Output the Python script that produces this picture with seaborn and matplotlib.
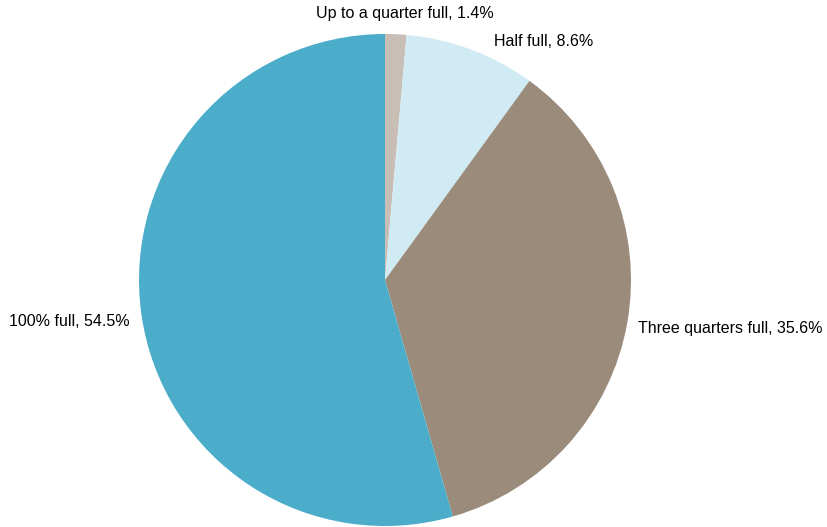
import matplotlib
matplotlib.use("Agg")
import matplotlib.pyplot as plt
import seaborn as sns

sns.set_theme(style="white")
plt.rcParams['font.family'] = ['Liberation Sans', 'DejaVu Sans']

categories = ["Up to a quarter full", "Half full", "Three quarters full", "100% full"]
values = [1.4, 8.6, 35.6, 54.5]
colors = ["#C8BEB5", "#D0EBF4", "#9A8B7B", "#4BADCA"]

W, H = 827, 527
fig = plt.figure(figsize=(W / 100, H / 100), dpi=100)
cx, cy, r = 385, 280, 246
ax = fig.add_axes([(cx - r) / W, (H - cy - r) / H, 2 * r / W, 2 * r / H])
ax.pie(values, colors=colors, startangle=90, counterclock=False,
       radius=1, wedgeprops=dict(linewidth=0))
ax.set_xlim(-1, 1)
ax.set_ylim(-1, 1)
ax.set_aspect("equal")
ax.axis("off")

def px(x, y):
    return (x - cx) / r, (cy - y) / r

label_pos = [((405, 14), "center"), ((494, 42), "left"), ((638, 328), "left"), ((130, 322), "right")]
for cat, v, ((x, y), ha) in zip(categories, values, label_pos):
    dx, dy = px(x, y)
    ax.text(dx, dy, f"{cat}, {v}%", ha=ha, va="center", fontsize=11.5,
            color="black", clip_on=False)

fig.savefig("out.png", dpi=100)
